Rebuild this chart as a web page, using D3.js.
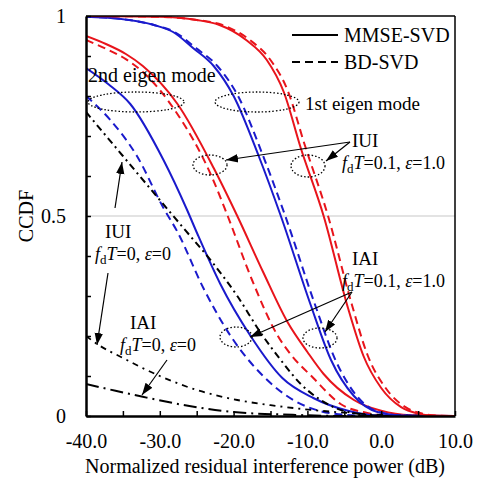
<!DOCTYPE html>
<html>
<head>
<meta charset="utf-8">
<script src="https://cdn.jsdelivr.net/npm/d3@7"></script>
<style>
  body { margin: 0; background: #fff; }
  svg, svg text { font-family: "Liberation Serif", "Times New Roman", serif; }
</style>
</head>
<body>
<script>
// CCDF of normalized residual interference power

var width = 481;
var height = 486;

var xTicks = [-40, -35, -30, -25, -20, -15, -10, -5, 0, 5, 10];
var yTicks = [0, 0.1, 0.2, 0.3, 0.4, 0.5, 0.6, 0.7, 0.8, 0.9, 1];
var yLabels = {0: "0", 0.5: "0.5", 1: "1"};

// red: IUI (fdT=0.1, eps=1.0), blue: IAI (fdT=0.1, eps=1.0)
var iui1Mmse = [[-40,1.0],[-30,0.998],[-25,0.99],[-22,0.978],[-18.3,0.94],[-15.5,0.89],[-13.2,0.81],[-10.9,0.67],[-7.8,0.5],[-4.5,0.27],[-2.4,0.15],[0,0.07],[2.7,0.022],[5,0.006],[7,0.001],[10,0]];
var iui1Bd   = [[-40,1.0],[-30,0.998],[-25,0.99],[-21.6,0.978],[-17.8,0.94],[-15,0.89],[-12.7,0.815],[-10.4,0.68],[-7.2,0.5],[-4,0.28],[-1.8,0.15],[0.6,0.07],[3.3,0.022],[5.6,0.006],[7.6,0.001],[10,0]];
var iai1Mmse = [[-40,0.998],[-35.5,0.993],[-30.9,0.978],[-28.2,0.96],[-25.5,0.92],[-22.7,0.875],[-20,0.8],[-16.6,0.65],[-13.6,0.5],[-9.6,0.28],[-6.8,0.14],[-3.7,0.05],[-0.5,0.01],[3,0.001],[10,0]];
var iai1Bd   = [[-40,0.998],[-35.5,0.993],[-30.9,0.978],[-28,0.96],[-25.1,0.92],[-22.2,0.875],[-19.4,0.8],[-16,0.65],[-13,0.5],[-9,0.28],[-6.2,0.14],[-3.3,0.05],[-0.3,0.01],[3,0.001],[10,0]];
var iui2Mmse = [[-40,0.95],[-37.3,0.93],[-34.6,0.905],[-32.3,0.875],[-27.6,0.78],[-22.7,0.62],[-19.5,0.5],[-16,0.36],[-12.7,0.235],[-10,0.16],[-7.8,0.105],[-3.7,0.04],[0,0.013],[4,0.002],[10,0]];
var iui2Bd   = [[-40,0.94],[-37.3,0.918],[-34.6,0.892],[-32.3,0.86],[-27.8,0.76],[-23,0.6],[-20.8,0.5],[-17.5,0.34],[-14,0.2],[-12.3,0.155],[-9.2,0.095],[-5.5,0.03],[-2,0.008],[0,0.002],[10,0]];
var iai2Mmse = [[-40,0.87],[-37,0.83],[-34,0.78],[-29.5,0.64],[-26.3,0.515],[-24.9,0.455],[-21.8,0.33],[-17.7,0.2],[-13.4,0.095],[-9.2,0.045],[-4.5,0.013],[-1,0.002],[3,0],[10,0]];
var iai2Bd   = [[-40,0.8],[-36.7,0.74],[-33.1,0.65],[-29.5,0.52],[-27.6,0.46],[-24.1,0.32],[-20.4,0.2],[-16,0.1],[-11.9,0.04],[-8.2,0.012],[-4,0.002],[0,0],[10,0]];
// black: fdT=0, eps=0
var iuiIdealA = [[-40,0.76],[-35,0.65],[-30,0.54],[-26.8,0.47],[-22.7,0.38],[-19.5,0.3],[-16.4,0.21],[-13.4,0.135],[-10.9,0.08],[-8.2,0.04],[-4.5,0.01],[0,0.001],[10,0]];
var iuiIdealB = [[-40,0.2],[-38.5,0.18],[-35,0.145],[-30,0.1],[-25,0.065],[-19.5,0.04],[-15,0.027],[-10.9,0.018],[-4,0.007],[0,0.003],[10,0]];
var iaiIdeal  = [[-40,0.08],[-36,0.063],[-32.3,0.048],[-26,0.025],[-20,0.01],[-12,0.003],[-5,0],[10,0]];

var red = "#e8141b";
var blue = "#1a1acc";

var series = [
  {data: iui2Bd,   color: red,  dash: "8,5", w: 2},
  {data: iui2Mmse, color: red,  dash: null,  w: 2},
  {data: iai2Bd,   color: blue, dash: "8,5", w: 2},
  {data: iai2Mmse, color: blue, dash: null,  w: 2},
  {data: iuiIdealA, color: "#000", dash: "7,4,2,4", w: 2},
  {data: iuiIdealB, color: "#000", dash: "6,5,2,5", w: 1.8},
  {data: iaiIdeal,  color: "#000", dash: "13,5,2,5", w: 2},
  {data: iai1Bd,   color: blue, dash: "8,5", w: 2},
  {data: iai1Mmse, color: blue, dash: null,  w: 2},
  {data: iui1Bd,   color: red,  dash: "8,5", w: 2},
  {data: iui1Mmse, color: red,  dash: null,  w: 2}
];

var x = d3.scaleLinear().domain([-40, 10]).range([86, 455]);
var y = d3.scaleLinear().domain([0, 1]).range([416, 16]);

var svg = d3.select("body").append("svg")
    .attr("width", width)
    .attr("height", height)
    .attr("font-family", "Liberation Serif, Times New Roman, serif");

svg.append("defs").append("clipPath").attr("id", "plot")
  .append("rect")
    .attr("x", x(-40)).attr("y", y(1))
    .attr("width", x(10) - x(-40)).attr("height", y(0) - y(1));

var marker = svg.select("defs").append("marker")
    .attr("id", "arrow")
    .attr("viewBox", "0 0 10 10")
    .attr("refX", 10).attr("refY", 5)
    .attr("markerWidth", 12).attr("markerHeight", 12)
    .attr("markerUnits", "userSpaceOnUse")
    .attr("orient", "auto");
marker.append("path").attr("d", "M0,1.5L10,5L0,8.5Z").attr("fill", "#000");

// grid line at 0.5
svg.append("line")
    .attr("x1", x(-40)).attr("x2", x(10))
    .attr("y1", y(0.5)).attr("y2", y(0.5))
    .attr("stroke", "#c8c8c8").attr("stroke-width", 1.2);

var line = d3.line()
    .x(function(d) { return x(d[0]); })
    .y(function(d) { return y(d[1]); })
    .curve(d3.curveMonotoneX);

var g = svg.append("g").attr("clip-path", "url(#plot)");
series.forEach(function(s) {
  g.append("path")
    .attr("d", line(s.data))
    .attr("fill", "none")
    .attr("stroke", s.color)
    .attr("stroke-width", s.w)
    .attr("stroke-dasharray", s.dash);
});

// frame
svg.append("line").attr("x1", x(-40)).attr("x2", x(10)).attr("y1", y(1)).attr("y2", y(1))
    .attr("stroke", "#000").attr("stroke-width", 1.5);
svg.append("line").attr("x1", x(10)).attr("x2", x(10)).attr("y1", y(1)).attr("y2", y(0))
    .attr("stroke", "#000").attr("stroke-width", 1.5);

var xAxis = svg.append("g")
    .attr("transform", "translate(0," + y(0) + ")")
    .call(d3.axisBottom(x).tickValues(xTicks).tickSize(-5).tickSizeOuter(0).tickPadding(18)
      .tickFormat(function(d) { return d % 10 === 0 ? d.toFixed(1) : ""; }));

var yAxis = svg.append("g")
    .attr("transform", "translate(" + x(-40) + ",0)")
    .call(d3.axisLeft(y).tickValues(yTicks).tickSize(-5).tickSizeOuter(0).tickPadding(20)
      .tickFormat(function(d) { return yLabels[Math.round(d * 10) / 10] || ""; }));

[xAxis, yAxis].forEach(function(a) {
  a.attr("font-family", "Liberation Serif, Times New Roman, serif").attr("font-size", 20);
  a.select(".domain").attr("stroke-width", 2.5);
  a.selectAll(".tick line").attr("stroke-width", 1.5);
  a.selectAll("text").attr("fill", "#000");
});

svg.append("text")
    .attr("x", 265).attr("y", 473)
    .attr("text-anchor", "middle")
    .attr("font-size", 20)
    .text("Normalized residual interference power (dB)");

svg.append("text")
    .attr("transform", "translate(33," + y(0.5) + ") rotate(-90)")
    .attr("text-anchor", "middle")
    .attr("font-size", 20)
    .text("CCDF");

// legend
svg.append("line").attr("x1", 292).attr("x2", 338).attr("y1", 35).attr("y2", 35)
    .attr("stroke", "#000").attr("stroke-width", 2);
svg.append("line").attr("x1", 292).attr("x2", 338).attr("y1", 62).attr("y2", 62)
    .attr("stroke", "#000").attr("stroke-width", 2).attr("stroke-dasharray", "8,5");
svg.append("text").attr("x", 344).attr("y", 42).attr("font-size", 20).text("MMSE-SVD");
svg.append("text").attr("x", 344).attr("y", 69).attr("font-size", 20).text("BD-SVD");

// annotations
svg.append("text").attr("x", 88).attr("y", 82).attr("font-size", 20).text("2nd eigen mode");
svg.append("text").attr("x", 305).attr("y", 110).attr("font-size", 19).text("1st eigen mode");

var ellipses = [[136, 102, 48, 10], [257, 102, 42, 10], [210, 165, 17, 10], [308, 166, 17, 11],
                [236, 337, 16, 10], [320, 338, 17, 10]];
ellipses.forEach(function(e) {
  svg.append("ellipse")
    .attr("cx", e[0]).attr("cy", e[1]).attr("rx", e[2]).attr("ry", e[3])
    .attr("fill", "none").attr("stroke", "#000")
    .attr("stroke-width", 1.3).attr("stroke-dasharray", "1.5,2");
});

function label(xp, yp, name, fdt, eps) {
  svg.append("text").attr("x", xp + 10).attr("y", yp).attr("font-size", 19).text(name);
  var t = svg.append("text").attr("x", xp).attr("y", yp + 22).attr("font-size", 18);
  t.append("tspan").attr("font-style", "italic").text("f");
  t.append("tspan").attr("font-size", 13).attr("dy", 4).text("d");
  t.append("tspan").attr("font-style", "italic").attr("dy", -4).text("T");
  t.append("tspan").text("=" + fdt + ", ");
  t.append("tspan").attr("font-style", "italic").text("ε");
  t.append("tspan").text("=" + eps);
}
label(342, 147, "IUI", "0.1", "1.0");
label(342, 265, "IAI", "0.1", "1.0");
label(95, 238, "IUI", "0", "0");
label(120, 329, "IAI", "0", "0");

var arrows = [[350, 142, 226, 160], [350, 142, 326, 161], [352, 292, 250, 337], [352, 292, 325, 332],
              [115, 208, 122, 162], [108, 273, 97, 345], [167, 360, 142, 395]];
arrows.forEach(function(a) {
  svg.append("line")
    .attr("x1", a[0]).attr("y1", a[1]).attr("x2", a[2]).attr("y2", a[3])
    .attr("stroke", "#000").attr("stroke-width", 1.2)
    .attr("marker-end", "url(#arrow)");
});
</script>
</body>
</html>
